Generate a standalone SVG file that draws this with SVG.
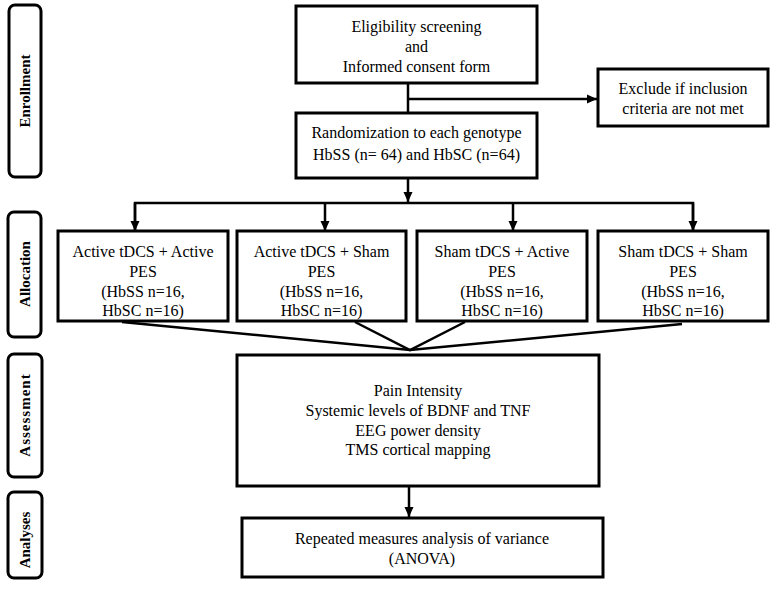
<svg xmlns="http://www.w3.org/2000/svg" width="773" height="592" viewBox="0 0 773 592">
<style>
.box{fill:#fff;stroke:#000;stroke-width:3}
.lab{fill:#fff;stroke:#000;stroke-width:3}
.t{font-family:"Liberation Serif","Times New Roman",serif;font-size:16px;fill:#000;text-anchor:middle}
.v{font-family:"Liberation Serif","Times New Roman",serif;font-size:15px;font-weight:bold;fill:#000;text-anchor:middle}
.ln{fill:none;stroke:#000;stroke-width:2.5}
</style>
<defs>
<marker id="ah" markerUnits="userSpaceOnUse" markerWidth="10" markerHeight="10" refX="10" refY="5" orient="auto">
<path d="M0,0.5 L10,5 L0,9.5 z" fill="#000"/>
</marker>
</defs>
<rect width="773" height="592" fill="#fff"/>

<g id="stage-enrollment">
<rect class="lab" x="9" y="5" width="32" height="172" rx="6"/>
<text class="v" transform="translate(30,91) rotate(-90)">Enrollment</text>
</g>
<g id="stage-allocation">
<rect class="lab" x="8" y="212" width="33" height="125" rx="6"/>
<text class="v" transform="translate(30,274) rotate(-90)">Allocation</text>
</g>
<g id="stage-assessment">
<rect class="lab" x="8" y="354" width="34" height="123" rx="6"/>
<text class="v" transform="translate(30,415) rotate(-90)" letter-spacing="1">Assessment</text>
</g>
<g id="stage-analyses">
<rect class="lab" x="8" y="492" width="34" height="86" rx="6"/>
<text class="v" transform="translate(30,540) rotate(-90)">Analyses</text>
</g>

<g id="connectors">
<line class="ln" x1="408" y1="83" x2="408" y2="113"/>
<line class="ln" x1="408" y1="99" x2="597" y2="99" marker-end="url(#ah)"/>
<line class="ln" x1="408" y1="178" x2="408" y2="202" marker-end="url(#ah)"/>
<polyline class="ln" points="135,230 135,203 693,203 693,230"/>
<line class="ln" x1="135" y1="203" x2="135" y2="231" marker-end="url(#ah)"/>
<line class="ln" x1="325" y1="203" x2="325" y2="231" marker-end="url(#ah)"/>
<line class="ln" x1="513" y1="203" x2="513" y2="231" marker-end="url(#ah)"/>
<line class="ln" x1="693" y1="203" x2="693" y2="231" marker-end="url(#ah)"/>
<polyline class="ln" points="122,322 410,350 682,324"/>
<polyline class="ln" points="355,322 410,350 465,322"/>
<line class="ln" x1="409" y1="486" x2="409" y2="517" marker-end="url(#ah)"/>
</g>

<g id="eligibility">
<rect class="box" x="296" y="6" width="241" height="77"/>
<text class="t" x="416.5" y="32">Eligibility screening</text>
<text class="t" x="416.5" y="52">and</text>
<text class="t" x="416.5" y="72">Informed consent form</text>
</g>
<g id="exclude">
<rect class="box" x="598" y="69" width="170" height="57"/>
<text class="t" x="683" y="94">Exclude if inclusion</text>
<text class="t" x="683" y="114">criteria are not met</text>
</g>
<g id="randomization">
<rect class="box" x="296" y="113" width="241" height="65"/>
<text class="t" x="416.5" y="138">Randomization to each genotype</text>
<text class="t" x="416.5" y="160">HbSS (n= 64) and HbSC (n=64)</text>
</g>

<g id="group1">
<rect class="box" x="58" y="231" width="170" height="90"/>
<text class="t" x="143" y="257">Active tDCS + Active</text>
<text class="t" x="143" y="277">PES</text>
<text class="t" x="143" y="297">(HbSS n=16,</text>
<text class="t" x="143" y="316">HbSC n=16)</text>
</g>
<g id="group2">
<rect class="box" x="237" y="231" width="169" height="90"/>
<text class="t" x="321.5" y="257">Active tDCS + Sham</text>
<text class="t" x="321.5" y="277">PES</text>
<text class="t" x="321.5" y="297">(HbSS n=16,</text>
<text class="t" x="321.5" y="316">HbSC n=16)</text>
</g>
<g id="group3">
<rect class="box" x="417" y="231" width="170" height="90"/>
<text class="t" x="502" y="257">Sham tDCS + Active</text>
<text class="t" x="502" y="277">PES</text>
<text class="t" x="502" y="297">(HbSS n=16,</text>
<text class="t" x="502" y="316">HbSC n=16)</text>
</g>
<g id="group4">
<rect class="box" x="598" y="231" width="170" height="90"/>
<text class="t" x="683" y="257">Sham tDCS + Sham</text>
<text class="t" x="683" y="277">PES</text>
<text class="t" x="683" y="297">(HbSS n=16,</text>
<text class="t" x="683" y="316">HbSC n=16)</text>
</g>

<g id="assessment">
<rect class="box" x="237" y="355" width="362" height="131"/>
<text class="t" x="418" y="396">Pain Intensity</text>
<text class="t" x="418" y="416">Systemic levels of BDNF and TNF</text>
<text class="t" x="418" y="436">EEG power density</text>
<text class="t" x="418" y="455">TMS cortical mapping</text>
</g>
<g id="analyses">
<rect class="box" x="242" y="518" width="361" height="59"/>
<text class="t" x="422" y="544">Repeated measures analysis of variance</text>
<text class="t" x="422" y="564">(ANOVA)</text>
</g>
</svg>
